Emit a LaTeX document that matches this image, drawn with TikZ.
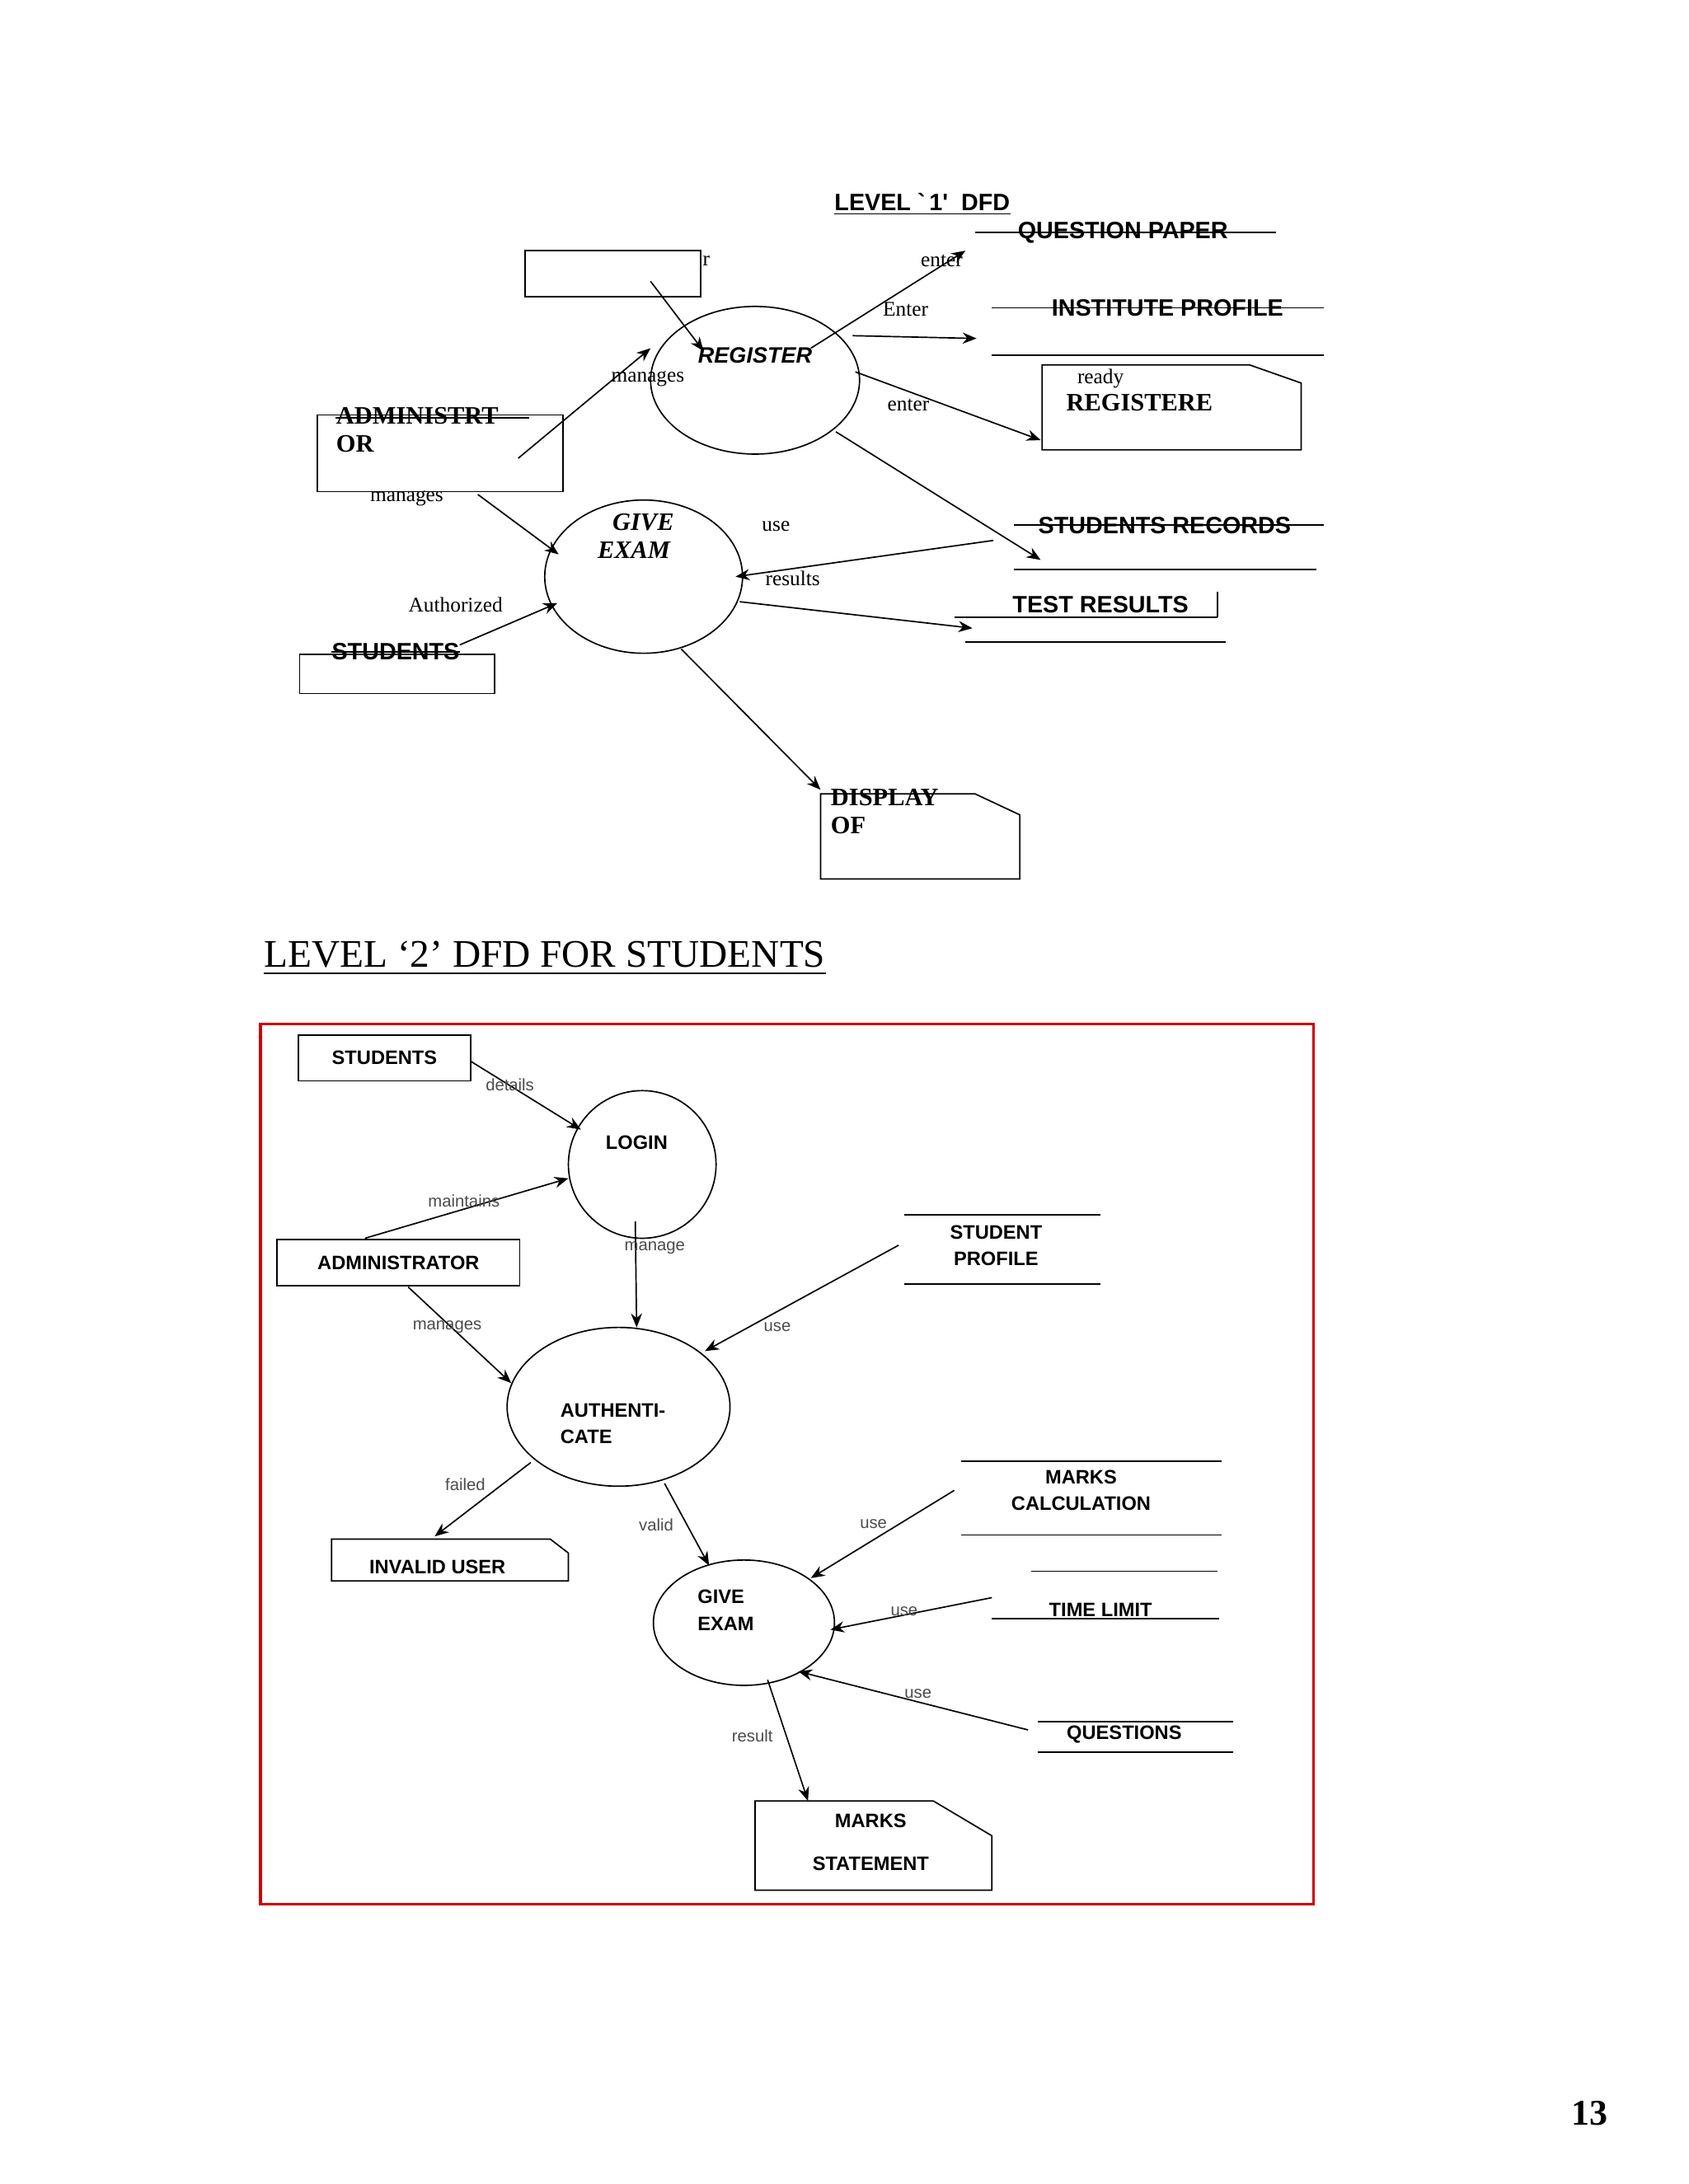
\documentclass[tikz,border=0pt]{standalone}
\usepackage{fontspec}
\setmainfont{Liberation Serif}
\newfontfamily\sansf{Liberation Sans}
\usetikzlibrary{arrows.meta}
\begin{document}
\begin{tikzpicture}[x=0.5pt,y=-0.5pt,
 arr/.style={-{Stealth[length=5pt,width=4pt]},line width=0.5pt},
 ln/.style={line width=0.5pt},
 sb/.style={font=\sansf\bfseries\fontsize{8.5}{9}\selectfont,inner sep=0pt},
 sr/.style={font=\bfseries\fontsize{9}{10}\selectfont,inner sep=0pt,align=left},
 lb/.style={font=\fontsize{7.5}{8}\selectfont,inner sep=0pt},
 s2/.style={font=\sansf\bfseries\fontsize{7}{9.5}\selectfont,inner sep=0pt,align=center},
 l2/.style={font=\sansf\fontsize{6}{7}\selectfont,text=black!70,inner sep=0pt}]
\useasboundingbox[fill=white] (0,0) rectangle (1212,1568);
% ---------- Level 1
\node[sb] (t1) at (662,145) {LEVEL `\,1'\ \ DFD};
\draw[ln] (t1.south west)++(0,-1pt) -- ([yshift=-1pt]t1.south east);
\node[draw,ln,minimum width=63pt,minimum height=16.5pt] (e1) at (440,196.5) {};
\node[lb] at (507,187) {r};
\draw[ln] (542,273) ellipse (75 and 53);
\node (reg) at (542,273) {};
\node[font=\sansf\bfseries\itshape\fontsize{8}{9}\selectfont] at (542,255) {REGISTER};
\node[draw,ln,minimum width=88pt,minimum height=27.5pt] (adm) at (316,325.5) {};
\node[sr,anchor=north west] (admt) at (241,292) {ADMINISTRT\\OR};
\draw[ln] (241,300)--(380,300);
\draw[ln] (462,414) ellipse (71 and 55);
\node[font=\bfseries\itshape\fontsize{9}{10}\selectfont,align=center,inner sep=0pt] at (455,385) {\ \ \ GIVE\\EXAM};
\node[draw,ln,minimum width=70pt,minimum height=14pt] (stu) at (285,484) {};
\node[sb] (stut) at (284,468) {STUDENTS};
\draw[ln] (stut.west)--(stut.east);
\node[sb] (qp) at (806,167) {QUESTION PAPER};
\draw[ln] (700,167)--(916,167);
\node[sb] (ip) at (838,221) {INSTITUTE PROFILE};
\draw[ln] (712,221)--(950,221); \draw[ln] (712,255)--(950,255);
\draw[ln] (748,262)--(897,262)--(934,275)--(934,323)--(748,323)--cycle;
\node[lb] at (790,272) {ready};
\node[sr] at (818,289) {REGISTERE};
\node[sb] (sr) at (836,377) {STUDENTS RECORDS};
\draw[ln] (728,377)--(950,377); \draw[ln] (728,409)--(945,409);
\node[sb] (tr) at (790,434) {TEST RESULTS};
\draw[ln] (685,443)--(874,443); \draw[ln] (874,425)--(874,443); \draw[ln] (693,461)--(880,461);
\draw[ln] (589,570)--(700,570)--(732,585)--(732,631)--(589,631)--cycle;
\node[sr,anchor=north west] at (596,566) {DISPLAY\\OF};
\draw[arr] (467,202)--(505,252);
\draw[arr] (372,329)--(467,250); \node[lb] at (465,272) {manages};
\draw[arr] (582,250)--(693,180); \node[lb] at (676,187) {enter};
\draw[arr] (612,241)--(701,243); \node[lb] at (650,222) {Enter};
\draw[arr] (614,267)--(747,316); \node[lb] at (652,291) {enter};
\draw[arr] (600,310)--(747,402);
\draw[arr] (343,355)--(401,398); \node[lb] at (292,358) {manages};
\draw[arr] (330,463)--(400,433); \node[lb] at (327,434) {Authorized};
\draw[arr] (713,388)--(528,414); \node[lb] at (557,378) {use}; \node[lb] at (569,415) {results};
\draw[arr] (531,432)--(698,451);
\draw[arr] (489,466)--(589,567);
% ---------- Level 2
\node[font=\fontsize{14}{16}\selectfont,inner sep=0pt] (t2) at (391,685) {LEVEL `2' DFD FOR STUDENTS};
\draw[ln] ([yshift=-2pt]t2.south west)--([yshift=-2pt]t2.south east);
\draw[red!80!black,line width=1pt] (187,735) rectangle (943,1367);
\node[draw,ln,s2,minimum width=62pt,minimum height=16.5pt] (s2) at (276,759.5) {STUDENTS};
\draw[ln] (461,836) circle (53); \node[s2] at (457,820) {LOGIN};
\node[draw,ln,s2,minimum width=87pt,minimum height=16.5pt] (a2) at (286,906.5) {ADMINISTRATOR};
\draw[ln] (649,872)--(790,872); \draw[ln] (649,922)--(790,922);
\node[s2] at (715,894) {STUDENT\\PROFILE};
\draw[ln] (444,1010) ellipse (80 and 57);
\node[s2,align=left] at (440,1022) {AUTHENTI-\\CATE};
\draw[ln] (238,1105)--(395,1105)--(408,1115)--(408,1135)--(238,1135)--cycle;
\node[s2] at (314,1125) {INVALID USER};
\draw[ln] (690,1049)--(877,1049); \draw[ln] (690,1102)--(877,1102);
\node[s2] at (776,1070) {MARKS\\CALCULATION};
\draw[ln] (740,1128)--(874,1128); \draw[ln] (712,1162)--(875,1162);
\node[s2] at (790,1156) {TIME LIMIT};
\draw[ln] (534,1165) ellipse (65 and 45);
\node[s2,align=left] at (521,1156) {GIVE\\EXAM};
\draw[ln] (745,1236)--(885,1236); \draw[ln] (745,1258)--(885,1258);
\node[s2] at (807,1245) {QUESTIONS};
\draw[ln] (542,1293)--(670,1293)--(712,1318)--(712,1357)--(542,1357)--cycle;
\node[s2] at (625,1307) {MARKS}; \node[s2] at (625,1338) {STATEMENT};
\draw[arr] (338,762)--(417,811); \node[l2] at (366,779) {details};
\draw[arr] (262,889)--(408,846); \node[l2] at (333,862) {maintains};
\draw[arr] (456,877)--(457,953); \node[l2] at (470,896) {manage};
\draw[arr] (645,894)--(506,970); \node[l2] at (558,953) {use};
\draw[arr] (293,924)--(367,993); \node[l2] at (321,953) {manages};
\draw[arr] (381,1050)--(312,1103); \node[l2] at (334,1066) {failed};
\draw[arr] (477,1065)--(509,1124); \node[l2] at (471,1095) {valid};
\draw[arr] (685,1070)--(582,1133); \node[l2] at (627,1094) {use};
\draw[arr] (712,1147)--(596,1170); \node[l2] at (649,1157) {use};
\draw[arr] (738,1242)--(573,1200); \node[l2] at (659,1216) {use};
\draw[arr] (551,1206)--(580,1293); \node[l2] at (540,1246) {result};
\node[font=\bfseries\fontsize{13}{14}\selectfont] at (1141,1517) {13};
\end{tikzpicture}
\end{document}
